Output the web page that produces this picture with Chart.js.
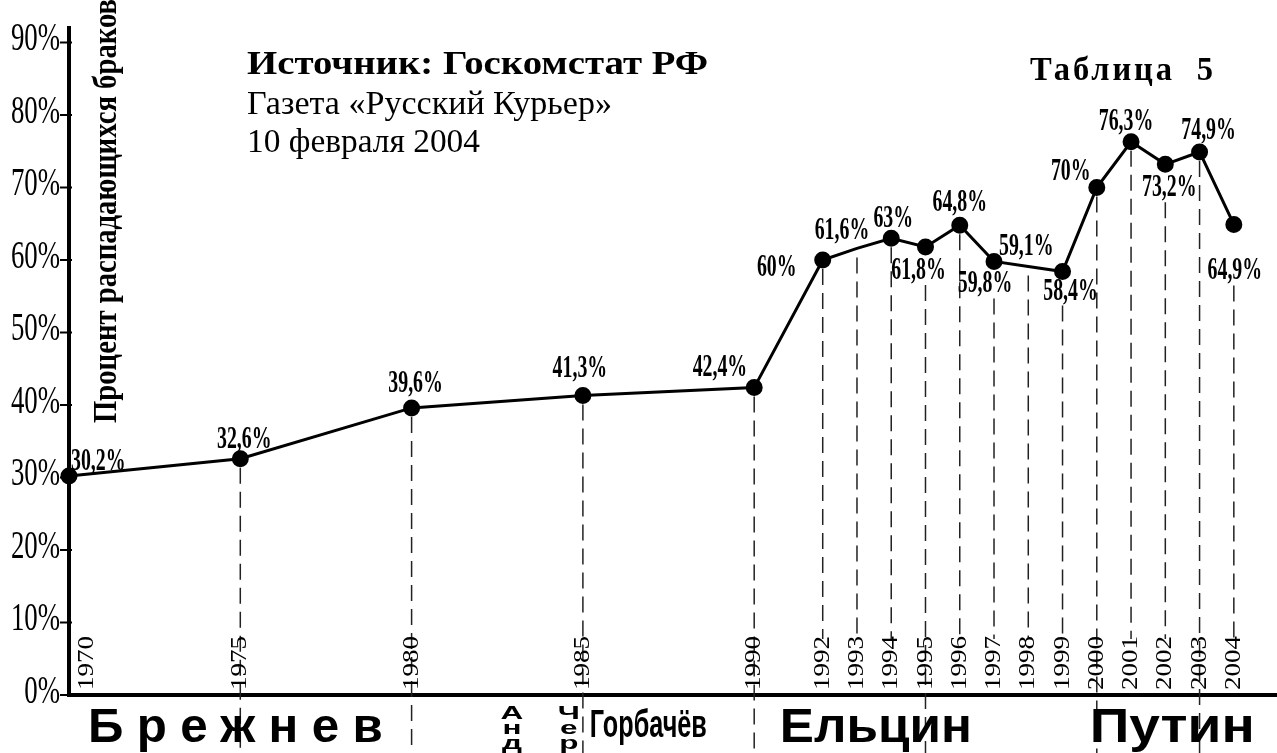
<!DOCTYPE html>
<html lang="ru">
<head>
<meta charset="utf-8">
<title>Процент распадающихся браков</title>
<script src="https://cdn.jsdelivr.net/npm/chart.js@4.4.1/dist/chart.umd.min.js"></script>
<style>
    html, body { margin: 0; padding: 0; background: #fff; }
    #grafico { display: block; }
</style>
</head>
<body>
<canvas id="grafico" width="1277" height="753"></canvas>
<script>
// dados: Госкомстат РФ
const years = [1970, 1975, 1980, 1985, 1990, 1992, 1993, 1994, 1995, 1996, 1997, 1998, 1999, 2000, 2001, 2002, 2003, 2004];
const rates = [30.2, 32.6, 39.6, 41.3, 42.4, 60, 61.6, 63, 61.8, 64.8, 59.8, 59.1, 58.4, 70, 76.3, 73.2, 74.9, 64.9];
const yTicks = [0, 10, 20, 30, 40, 50, 60, 70, 80, 90];
const noMarker = [1993, 1998];
const longGuides = [1975, 1980, 1985, 1990, 1995, 2000, 2003];
const leaders = ["Брежнев", "Андропов", "Черненко", "Горбачёв", "Ельцин", "Путин"];
const leaderYears = [1974.86, 1982.93, 1984.59, 1986.91, 1993.55, 2002.2];

// where each value label sits relative to its point: dx, dy, align
const labelPos = [
    [2, -6, "left"], [4, -11, "center"], [4, -16, "center"], [-3, -19, "center"], [-7, -12, "right"],
    [-46, 16, "center"], [-15, -9, "center"], [2, -11, "center"], [-7, 32, "center"], [0, -14, "center"],
    [-9, 31, "center"], [-2, -12, "center"], [8, 28, "center"], [-26, -8, "center"], [-5, -12, "center"],
    [4, 32, "center"], [9, -13, "center"], [1, 55, "center"]
];

const SERIF = "'Liberation Serif', 'Times New Roman', serif";
const SANS = "'Liberation Sans', Arial, sans-serif";

function txt(ctx, s, x, y, o) {
    ctx.save();
    ctx.translate(x, y);
    if (o.rot) ctx.rotate(o.rot);
    ctx.font = o.font;
    ctx.letterSpacing = o.ls || "0px";
    let sx = o.sx || 1;
    if (o.w) sx = o.w / ctx.measureText(s).width;
    ctx.scale(sx, o.sy || 1);
    ctx.textAlign = o.align || "left";
    ctx.textBaseline = o.base || "alphabetic";
    ctx.fillStyle = "#000";
    ctx.fillText(s, 0, 0);
    ctx.restore();
}

const decor = {
    id: "decor",
    beforeDatasetsDraw(chart) {
        const ctx = chart.ctx;
        const xs = chart.scales.x, ys = chart.scales.y;
        const bottom = chart.chartArea.bottom;
        ctx.save();
        ctx.strokeStyle = "#222";
        ctx.lineWidth = 1.5;
        ctx.setLineDash([16, 8]);
        years.forEach((yr, i) => {
            if (yr === 1970) return;
            const x = xs.getPixelForValue(yr);
            const y = ys.getPixelForValue(rates[i]);
            const p = labelPos[i];
            let top = y + 9;
            if (p[1] > 0 && Math.abs(p[0]) < 20) top = y + p[1] + 6;
            const end = longGuides.includes(yr) ? chart.height : bottom - 56;
            ctx.beginPath();
            ctx.moveTo(x, top);
            ctx.lineTo(x, end);
            ctx.stroke();
        });
        ctx.restore();
    },
    afterDraw(chart) {
        const ctx = chart.ctx;
        const xs = chart.scales.x, ys = chart.scales.y;
        const left = chart.chartArea.left;
        const bottom = chart.chartArea.bottom;

        // y ticks
        ctx.save();
        ctx.strokeStyle = "#000";
        ctx.lineWidth = 2;
        yTicks.forEach(t => {
            const y = ys.getPixelForValue(t);
            ctx.beginPath();
            ctx.moveTo(left - 9, y);
            ctx.lineTo(left + 3, y);
            ctx.stroke();
            txt(ctx, t + "%", left - 9, y - 3, { font: "40px " + SERIF, sx: 0.67, align: "right", base: "middle" });
        });
        ctx.restore();

        // year labels
        years.forEach(yr => {
            let x = xs.getPixelForValue(yr);
            if (yr === 1970) x += 18;
            txt(ctx, String(yr), x, bottom - 5, { font: "27px " + SERIF, rot: -Math.PI / 2, sy: 0.85, base: "middle" });
        });

        // value labels
        years.forEach((yr, i) => {
            const p = labelPos[i];
            const x = xs.getPixelForValue(yr) + p[0];
            const y = ys.getPixelForValue(rates[i]) + p[1];
            const s = String(rates[i]).replace(".", ",") + "%";
            txt(ctx, s, x, y, { font: "bold 32px " + SERIF, sx: 0.62, align: p[2] });
        });

        // axis title
        txt(ctx, "Процент распадающихся браков", 116, 423, { font: "bold 33px " + SERIF, rot: -Math.PI / 2, w: 424 });

        // heading
        txt(ctx, "Источник: Госкомстат РФ", 247, 74, { font: "bold 33px " + SERIF, w: 461 });
        txt(ctx, "Газета «Русский Курьер»", 247, 114, { font: "33px " + SERIF, w: 365 });
        txt(ctx, "10 февраля 2004", 247, 152, { font: "33px " + SERIF, w: 233 });
        txt(ctx, "Таблица  5", 1030, 80, { font: "bold 34px " + SERIF, ls: "3px", w: 186 });

        // leaders under the axis
        const widths = { "Брежнев": 295, "Горбачёв": 117, "Ельцин": 192, "Путин": 165 };
        leaders.forEach((name, i) => {
            const cx = xs.getPixelForValue(leaderYears[i]);
            if (name === "Андропов" || name === "Черненко") {
                [...name].forEach((ch, k) => {
                    txt(ctx, ch, cx, 719 + k * 15, { font: "bold 18px " + SANS, sx: 1.75, align: "center" });
                });
                return;
            }
            const w = widths[name];
            if (name === "Горбачёв") {
                txt(ctx, name, cx - w / 2, 737, { font: "bold 38px " + SANS, w: w });
            } else if (name === "Брежнев") {
                txt(ctx, name, cx - w / 2, 742, { font: "bold 48px " + SANS, ls: "13px", w: w + 13 });
            } else {
                txt(ctx, name, cx - w / 2, 742, { font: "bold 48px " + SANS, w: w });
            }
        });
    }
};

const ctx = document.getElementById("grafico");

new Chart(ctx, {
    type: "line",
    data: {
        datasets: [{
            data: years.map((yr, i) => ({ x: yr, y: rates[i] })),
            borderColor: "#000",
            borderWidth: 3,
            pointRadius: years.map(yr => noMarker.includes(yr) ? 0 : 7),
            pointBackgroundColor: "#000",
            pointBorderColor: "#000",
            tension: 0,
            clip: false
        }]
    },
    options: {
        responsive: false,
        animation: false,
        devicePixelRatio: 1,
        layout: { autoPadding: false, padding: { left: 69, top: 28, right: 0, bottom: 58 } },
        plugins: { legend: { display: false }, tooltip: { enabled: false } },
        scales: {
            x: {
                type: "linear", min: 1970, max: 2005.26,
                grid: { display: false }, ticks: { display: false },
                border: { display: true, color: "#000", width: 4 },
                afterFit: s => { s.height = 0; s.paddingLeft = 0; s.paddingRight = 0; }
            },
            y: {
                min: 0, max: 92,
                grid: { display: false }, ticks: { display: false },
                border: { display: true, color: "#000", width: 4 },
                afterFit: s => { s.width = 0; s.paddingTop = 0; s.paddingBottom = 0; }
            }
        }
    },
    plugins: [decor]
});
</script>
</body>
</html>
